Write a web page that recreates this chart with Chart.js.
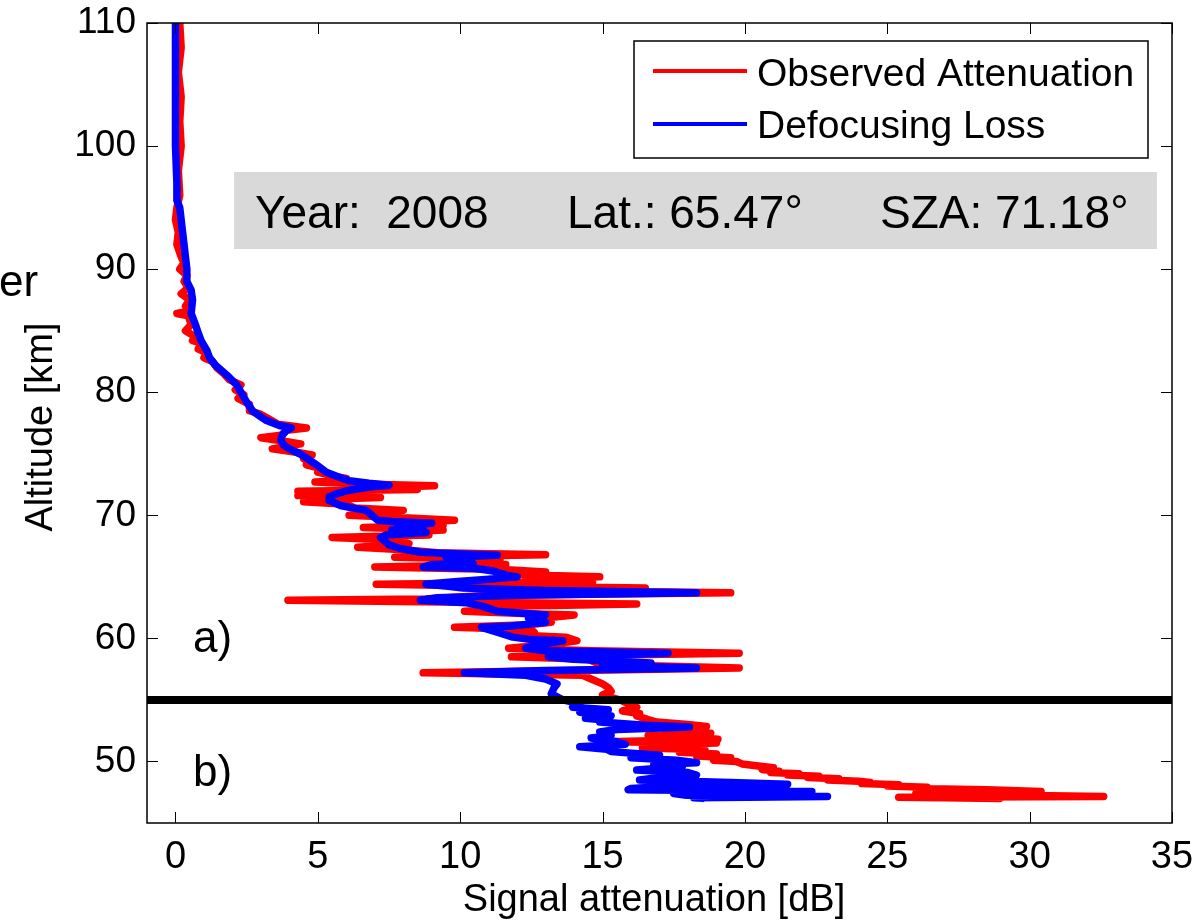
<!DOCTYPE html>
<html>
<head>
<meta charset="utf-8">
<script src="https://cdn.jsdelivr.net/npm/chart.js@4/dist/chart.umd.min.js"></script>
<style>
body{margin:0;background:#fff;}
</style>
</head>
<body>
<canvas id="grafico" width="1200" height="924"></canvas>
<script>
// Observed Attenuation (red)
var obsAlt = [110,108,106,104,102,100,98,96,95,94,93,92,91,90.5,90,89.5,89,88.5,88,87.5,87,86.6,86.4,86.2,85.5,85,84.5,84.2,84,83.5,83.2,82.8,82.5,82,81.5,81,80.6,80.2,79.8,79.5,79,78.5,78.2,77.8,77.4,77.1,76.9,76.5,76.3,76.1,75.8,75.6,75.4,75.1,74.9,74.6,74.3,74.1,73.8,73.5,73.2,73,72.8,72.7,72.55,72.4,72.25,72.1,71.95,71.8,71.6,71.45,71.3,71.1,70.9,70.6,70.4,70.2,70,69.8,69.6,69.4,69.2,69,68.8,68.6,68.4,68.2,68,67.7,67.4,67.2,66.95,66.8,66.6,66.4,66.2,66,65.8,65.6,65.4,65.2,65,64.8,64.6,64.4,64.25,64.1,63.9,63.7,63.5,63.2,63.1,62.95,62.8,62.6,62.4,62.2,62,61.9,61.6,61.3,61.1,60.9,60.7,60.5,60.3,60.1,59.8,59.5,59.2,59,58.8,58.6,58.5,58.3,58,57.8,57.6,57.4,57.2,57,56.7,56.3,56,55.7,55.4,55,54.6,54.4,54.1,53.9,53.7,53.4,53.2,53,52.85,52.7,52.6,52.45,52.3,52.1,51.95,51.8,51.6,51.5,51.35,51.2,51.1,51,50.9,50.75,50.6,50.45,50.3,50.1,50,49.8,49.65,49.5,49.35,49.2,49.1,49,48.9,48.8,48.7,48.6,48.5,48.4,48.3,48.2,48.1,48,47.9,47.8,47.7,47.55,47.45,47.35,47.25,47.15,47.1,47.05,47];
var obsAtt = [0.15,0.2,0.1,0.2,0.15,0.2,0.1,0.15,0.05,0,0.1,0.05,0.2,0.3,0.15,0.4,0.3,0.45,0.2,0.5,0.35,0.5,0.05,0.45,0.55,0.35,0.7,0.6,0.9,0.8,1.1,1,1.3,1.45,1.7,1.9,2.3,2.1,2.4,2.2,2.6,2.6,3,3.3,3.6,4.6,3.9,3.7,3,3.6,4.4,3.9,3.4,4.3,4.8,4.5,4.7,4.6,5.1,5,5.5,6,5.8,4.9,6.5,9.1,7,8.5,4.3,5.5,4.3,7.2,5.3,4.5,6,6.3,8,6.9,6.1,8,9.8,8,9.4,6.6,9.4,7.5,8.9,5.5,7.6,8.2,6.4,8,9.2,13,7.7,11.4,10,11.6,7,11.5,13,11.6,14.9,12.3,14.65,7.05,11,16.5,12.3,19.5,11,8.8,3.95,9.4,16.2,11.2,11.8,10.15,12.4,14,12.7,13.2,12.4,9.8,12.5,12.6,11.8,13.7,14.1,13.1,11.7,14.65,19.8,14,11.8,14.5,14.8,16.3,19.8,14,8.7,14.3,14.6,15,15.2,15.3,15,15.6,16,16.2,15.7,16.3,16.2,16.6,16.9,18,18.65,17.4,18.2,17.2,18.8,16.6,18.4,19.05,15.15,19,16.8,17.6,16.4,18.2,18.6,17.7,19,18.3,19.5,18.9,19.7,19.9,20.4,21,20.6,21.2,20.9,21.9,21.5,22.6,22.2,23.3,22.9,24,24.4,24.1,25.4,25,26.4,26,28.5,30.4,27.5,26,29.5,32.6,25.4,27,28.95];

// Defocusing Loss (blue)
var defAlt = [110,105,100,97,95.6,95,94,93,92,91,90,89,88.3,87.5,86.4,85.5,84.8,84.2,83.4,82.8,82.2,81.4,80.6,79.8,79.2,78.5,78,77.7,77.3,77.1,76.9,76.5,76.1,75.7,75.4,74.9,74.5,74.1,73.5,73.1,72.8,72.6,72.45,72.3,72,71.7,71.5,71.2,70.8,70.6,70.4,70,69.6,69.5,69.35,69.2,69,68.8,68.6,68.4,68.2,68,67.6,67.3,67,66.85,66.75,66.6,66.4,66.1,66,65.8,65.7,65.5,65.3,65.1,65,64.8,64.6,64.4,64.25,64.1,63.9,63.7,63.5,63.3,63.1,62.9,62.6,62.2,61.9,61.6,61.3,61,60.9,60.5,60.1,59.9,59.8,59.5,59.2,59,58.8,58.6,58.5,58.3,58,57.8,57.6,57.4,57.2,57,56.7,56.3,56,55.5,55,54.7,54.4,54.2,54,53.7,53.5,53.4,53.2,52.95,52.8,52.6,52.4,52.1,51.9,51.6,51.4,51.2,51,50.8,50.5,50.3,50.1,49.9,49.75,49.6,49.3,49.1,48.9,48.7,48.5,48.3,48.15,48,47.8,47.7,47.55,47.4,47.25,47.15,47.05,47];
var defLoss = [0,0,0,0.05,0.05,0.15,0.2,0.25,0.3,0.35,0.4,0.4,0.55,0.6,0.55,0.7,0.8,0.9,1.1,1.2,1.4,1.8,2.15,2.35,2.5,2.7,3,3.2,3.65,4.07,3.9,3.75,3.7,3.8,4,4.45,4.7,4.95,5.3,5.75,6.1,6.8,7.5,6.8,6,5.6,5.4,5.4,5.8,6.2,6.7,6.9,7.1,7.6,9,7.8,8.7,7.6,8.8,7.4,7.2,7.3,7.5,7.9,8.6,10,11.3,9.5,10.2,10.45,9,8.7,10.5,11.1,11.4,11.7,12,11,9.8,8.8,9.5,10.1,13,18.3,12,9.2,8.6,10.2,10.8,11.3,13,12.4,13,11.8,10.75,11.3,11.85,12.5,13.6,12.8,12.3,13,17.3,14.5,13.1,14,16.7,15,18.3,13,10.15,12.3,13,13.4,13.3,13.2,13.6,14.2,13.95,15.2,14.2,15.3,14.4,14.9,14.9,16.5,18.05,15.5,14.9,15.3,14.6,15.5,15.8,14.2,15.15,15.3,17,16,17.6,18.3,16.8,17.8,16.2,18,18.3,17,16.3,19.5,21.5,17.5,16,15.9,22.35,17.5,17.95,22.9,18.2,18.5];

var xTicks = [0,5,10,15,20,25,30,35];
var yTicks = [50,60,70,80,90,100,110];
var limiteAlt = 55;
var etiquetas = ["Observed Attenuation","Defocusing Loss"];
var infoPerfil = ["Year:  2008","Lat.: 65.47°","SZA: 71.18°"];

function puntos(xs, ys){
    return xs.map(function(v, i){ return {x: v, y: ys[i]}; });
}

var fuente = "'Liberation Sans', Arial, sans-serif";

var decoracion = {
    id: 'decoracion',
    beforeDatasetsDraw: function(chart){
        var ctx = chart.ctx;
        // caja gris con los datos del perfil
        ctx.save();
        ctx.fillStyle = '#d9d9d9';
        ctx.fillRect(234, 172, 923, 77);
        ctx.fillStyle = '#000';
        ctx.font = '46px ' + fuente;
        ctx.textBaseline = 'alphabetic';
        ctx.fillText(infoPerfil[0], 255, 228);
        ctx.fillText(infoPerfil[1], 567, 228);
        ctx.fillText(infoPerfil[2], 880, 228);
        ctx.restore();
    },
    afterDraw: function(chart){
        var ctx = chart.ctx;
        var a = chart.chartArea;
        var xs = chart.scales.x, ys = chart.scales.y;
        ctx.save();
        ctx.strokeStyle = '#000';
        ctx.lineWidth = 1.5;
        ctx.strokeRect(a.left, a.top, a.right - a.left, a.bottom - a.top);
        // ticks hacia dentro, en los cuatro lados
        ctx.lineWidth = 1;
        ctx.beginPath();
        xTicks.forEach(function(t){
            var px = Math.round(xs.getPixelForValue(t)) + 0.5;
            ctx.moveTo(px, a.bottom); ctx.lineTo(px, a.bottom - 11);
            ctx.moveTo(px, a.top); ctx.lineTo(px, a.top + 11);
        });
        yTicks.forEach(function(t){
            var py = Math.round(ys.getPixelForValue(t)) + 0.5;
            ctx.moveTo(a.left, py); ctx.lineTo(a.left + 11, py);
            ctx.moveTo(a.right, py); ctx.lineTo(a.right - 11, py);
        });
        ctx.stroke();

        // leyenda
        ctx.fillStyle = '#fff';
        ctx.fillRect(634, 41, 514, 117);
        ctx.lineWidth = 1.5;
        ctx.strokeRect(634, 41, 514, 117);
        ctx.lineWidth = 4;
        ctx.strokeStyle = '#ff0000';
        ctx.beginPath(); ctx.moveTo(653, 71); ctx.lineTo(747, 71); ctx.stroke();
        ctx.strokeStyle = '#0000ff';
        ctx.beginPath(); ctx.moveTo(653, 124); ctx.lineTo(747, 124); ctx.stroke();
        ctx.fillStyle = '#000';
        ctx.font = '39px ' + fuente;
        ctx.fillText(etiquetas[0], 757, 86);
        ctx.fillText(etiquetas[1], 757, 138);

        // etiquetas de region
        ctx.font = '44px ' + fuente;
        ctx.fillText('a)', 193, 652);
        ctx.fillText('b)', 193, 786);
        ctx.fillText('er', -1, 296);

        // titulos de ejes
        ctx.font = '38px ' + fuente;
        ctx.textAlign = 'center';
        ctx.fillText('Signal attenuation [dB]', 654, 911);
        ctx.translate(52, 427);
        ctx.rotate(-Math.PI / 2);
        ctx.fillText('Altitude [km]', 0, 0);
        ctx.restore();
    }
};

var grafico = new Chart(document.getElementById('grafico'), {
    type: 'scatter',
    data: {
        datasets: [
            {
                label: etiquetas[1],
                data: puntos(defLoss, defAlt),
                showLine: true,
                borderColor: '#0000ff',
                borderWidth: 7.5,
                pointRadius: 0,
                borderJoinStyle: 'round',
                borderCapStyle: 'round',
                order: 1
            },
            {
                label: etiquetas[0],
                data: puntos(obsAtt, obsAlt),
                showLine: true,
                borderColor: '#ff0000',
                borderWidth: 7.5,
                pointRadius: 0,
                borderJoinStyle: 'round',
                borderCapStyle: 'round',
                order: 2
            },
            {
                label: 'limite',
                data: [{x: -1, y: limiteAlt}, {x: 35, y: limiteAlt}],
                showLine: true,
                borderColor: '#000',
                borderWidth: 8,
                pointRadius: 0,
                order: 0
            }
        ]
    },
    options: {
        responsive: false,
        animation: false,
        layout: {padding: {top: 23, right: 28, left: 0, bottom: 0}},
        plugins: {legend: {display: false}, tooltip: {enabled: false}},
        scales: {
            x: {
                type: 'linear', min: -1, max: 35,
                afterBuildTicks: function(s){ s.ticks = xTicks.map(function(v){ return {value: v}; }); },
                afterFit: function(s){ s.height = 101; s.paddingLeft = 0; s.paddingRight = 0; },
                grid: {display: false, drawTicks: false},
                border: {display: false},
                ticks: {color: '#000', padding: 12, maxRotation: 0, font: {family: fuente, size: 38}}
            },
            y: {
                type: 'linear', min: 45, max: 110,
                afterBuildTicks: function(s){ s.ticks = yTicks.map(function(v){ return {value: v}; }); },
                afterFit: function(s){ s.width = 147; s.paddingTop = 0; s.paddingBottom = 0; },
                grid: {display: false, drawTicks: false},
                border: {display: false},
                ticks: {color: '#000', padding: 11, font: {family: fuente, size: 37}}
            }
        }
    },
    plugins: [decoracion]
});
</script>
</body>
</html>
